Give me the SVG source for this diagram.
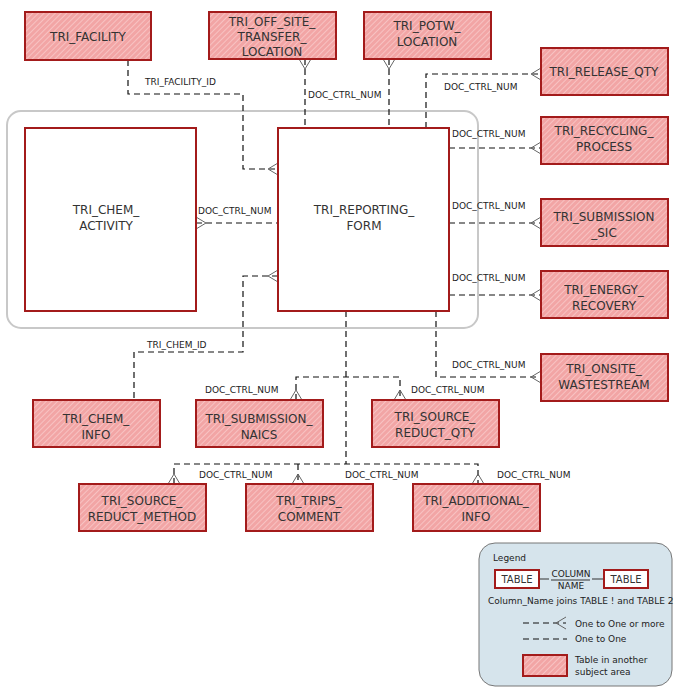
<svg xmlns="http://www.w3.org/2000/svg" width="686" height="700" viewBox="0 0 686 700">
<defs>
<pattern id="hatch" width="4" height="4" patternUnits="userSpaceOnUse" patternTransform="rotate(45)">
<rect width="4" height="4" fill="#f2a5a5"/><line x1="0" y1="0" x2="0" y2="4" stroke="#f9cccc" stroke-width="1.5"/>
</pattern>
</defs>
<style>
.t{fill:url(#hatch);stroke:#a31b1b;stroke-width:2}
.w{fill:#fff;stroke:#a31b1b;stroke-width:2}
.n{font-family:"DejaVu Sans",sans-serif;font-size:12px;fill:#333;text-anchor:middle}
.l{font-family:"DejaVu Sans",sans-serif;font-size:9px;fill:#222}
.c{fill:none;stroke:#111;stroke-width:1.2;stroke-dasharray:6,4}
.f{fill:none;stroke:#666;stroke-width:1}
</style>
<rect x="7" y="111" width="471" height="217" rx="14" fill="none" stroke="#c8c8c8" stroke-width="2"/>
<g id="connectors">
<path class="c" d="M128 60V94H243V169H278"/><text class="l" x="145" y="85">TRI_FACILITY_ID</text>
<path class="f" d="M268 169L278 163M268 169L278 175"/>
<path class="c" d="M305 59V128"/><path class="f" d="M305 69L299 59M305 69L311 59"/><text class="l" x="308" y="98">DOC_CTRL_NUM</text>
<path class="c" d="M389 59V128"/><path class="f" d="M389 69L383 59M389 69L395 59"/>
<path class="c" d="M426 128V74H541"/><path class="f" d="M531 74L541 68M531 74L541 80"/><text class="l" x="444" y="90">DOC_CTRL_NUM</text>
<path class="c" d="M449 148H541"/><path class="f" d="M531 148L541 142M531 148L541 154"/><text class="l" x="452" y="137">DOC_CTRL_NUM</text>
<path class="c" d="M449 223H541"/><path class="f" d="M531 223L541 217M531 223L541 229"/><text class="l" x="452" y="209">DOC_CTRL_NUM</text>
<path class="c" d="M449 295H541"/><path class="f" d="M531 295L541 289M531 295L541 301"/><text class="l" x="452" y="281">DOC_CTRL_NUM</text>
<path class="c" d="M436 311V377H541"/><path class="f" d="M531 377L541 371M531 377L541 383"/><text class="l" x="452" y="368">DOC_CTRL_NUM</text>
<path class="c" d="M196 223H278"/><path class="f" d="M206 223L196 217M206 223L196 229"/><text class="l" x="198" y="214">DOC_CTRL_NUM</text>
<path class="c" d="M278 276H243V352H134V400"/><path class="f" d="M268 276L278 270M268 276L278 282"/><text class="l" x="147" y="348">TRI_CHEM_ID</text>
<path class="c" d="M346 311V464"/>
<path class="c" d="M296 400V377H400V400"/>
<path class="f" d="M296 390L290 400M296 390L302 400M400 390L394 400M400 390L406 400"/>
<text class="l" x="205" y="393">DOC_CTRL_NUM</text><text class="l" x="411" y="393">DOC_CTRL_NUM</text>
<path class="c" d="M174 484V464H478V484M298 464V484"/>
<path class="f" d="M174 474L168 484M174 474L180 484M298 474L292 484M298 474L304 484M478 474L472 484M478 474L484 484"/>
<text class="l" x="199" y="478">DOC_CTRL_NUM</text><text class="l" x="345" y="478">DOC_CTRL_NUM</text><text class="l" x="497" y="478">DOC_CTRL_NUM</text>
</g>
<g id="TRI_FACILITY"><rect class="t" x="25" y="12" width="126" height="48"/><text class="n" x="88" y="41">TRI_FACILITY</text></g>
<g id="TRI_OFF_SITE_TRANSFER_LOCATION"><rect class="t" x="209" y="12" width="127" height="47"/><text class="n" x="272" y="26">TRI_OFF_SITE_</text><text class="n" x="272" y="41">TRANSFER_</text><text class="n" x="272" y="56">LOCATION</text></g>
<g id="TRI_POTW_LOCATION"><rect class="t" x="364" y="12" width="127" height="47"/><text class="n" x="427" y="30">TRI_POTW_</text><text class="n" x="427" y="46">LOCATION</text></g>
<g id="TRI_RELEASE_QTY"><rect class="t" x="541" y="48" width="127" height="47"/><text class="n" x="604" y="76">TRI_RELEASE_QTY</text></g>
<g id="TRI_RECYCLING_PROCESS"><rect class="t" x="541" y="117" width="127" height="47"/><text class="n" x="604" y="135">TRI_RECYCLING_</text><text class="n" x="604" y="151">PROCESS</text></g>
<g id="TRI_SUBMISSION_SIC"><rect class="t" x="541" y="199" width="127" height="47"/><text class="n" x="604" y="221">TRI_SUBMISSION</text><text class="n" x="604" y="237">_SIC</text></g>
<g id="TRI_ENERGY_RECOVERY"><rect class="t" x="541" y="271" width="127" height="47"/><text class="n" x="604" y="294">TRI_ENERGY_</text><text class="n" x="604" y="310">RECOVERY</text></g>
<g id="TRI_ONSITE_WASTESTREAM"><rect class="t" x="541" y="354" width="127" height="47"/><text class="n" x="604" y="373">TRI_ONSITE_</text><text class="n" x="604" y="389">WASTESTREAM</text></g>
<g id="TRI_CHEM_ACTIVITY"><rect class="w" x="25" y="128" width="171" height="183"/><text class="n" x="106" y="214">TRI_CHEM_</text><text class="n" x="106" y="230">ACTIVITY</text></g>
<g id="TRI_REPORTING_FORM"><rect class="w" x="278" y="128" width="171" height="183"/><text class="n" x="364" y="214">TRI_REPORTING_</text><text class="n" x="364" y="230">FORM</text></g>
<g id="TRI_CHEM_INFO"><rect class="t" x="33" y="400" width="127" height="47"/><text class="n" x="96" y="423">TRI_CHEM_</text><text class="n" x="96" y="439">INFO</text></g>
<g id="TRI_SUBMISSION_NAICS"><rect class="t" x="196" y="400" width="127" height="47"/><text class="n" x="259" y="423">TRI_SUBMISSION_</text><text class="n" x="259" y="439">NAICS</text></g>
<g id="TRI_SOURCE_REDUCT_QTY"><rect class="t" x="372" y="400" width="127" height="47"/><text class="n" x="435" y="421">TRI_SOURCE_</text><text class="n" x="435" y="437">REDUCT_QTY</text></g>
<g id="TRI_SOURCE_REDUCT_METHOD"><rect class="t" x="79" y="484" width="127" height="47"/><text class="n" x="142" y="505">TRI_SOURCE_</text><text class="n" x="142" y="521">REDUCT_METHOD</text></g>
<g id="TRI_TRIPS_COMMENT"><rect class="t" x="246" y="484" width="127" height="47"/><text class="n" x="309" y="505">TRI_TRIPS_</text><text class="n" x="309" y="521">COMMENT</text></g>
<g id="TRI_ADDITIONAL_INFO"><rect class="t" x="413" y="484" width="127" height="47"/><text class="n" x="476" y="505">TRI_ADDITIONAL_</text><text class="n" x="476" y="521">INFO</text></g>
<g id="legend">
<rect x="479" y="543" width="193" height="143" rx="16" fill="#d6e4ec" stroke="#777" stroke-width="1"/>
<text class="l" x="493" y="561">Legend</text>
<rect x="495" y="570" width="44" height="18" fill="#fff" stroke="#a31b1b" stroke-width="2"/><text class="n" x="517" y="583" style="font-size:10px">TABLE</text>
<rect x="604" y="570" width="44" height="18" fill="#fff" stroke="#a31b1b" stroke-width="2"/><text class="n" x="626" y="583" style="font-size:10px">TABLE</text>
<path d="M540 579H549M592 579H603M551 580H590" stroke="#333" stroke-width="1"/>
<text class="l" x="571" y="577" text-anchor="middle">COLUMN</text><text class="l" x="571" y="589" text-anchor="middle">NAME</text>
<text class="l" x="488" y="604">Column_Name joins TABLE ! and TABLE 2</text>
<path class="c" d="M523 623H566" style="stroke-width:1"/><path class="f" d="M556 623L566 617M556 623L566 629"/>
<text class="l" x="575" y="627">One to One or more</text>
<path class="c" d="M523 639H567" style="stroke-width:1"/><text class="l" x="575" y="642">One to One</text>
<rect class="t" x="523" y="655" width="44" height="21"/>
<text class="l" x="575" y="663">Table in another</text><text class="l" x="575" y="675">subject area</text>
</g>
</svg>
